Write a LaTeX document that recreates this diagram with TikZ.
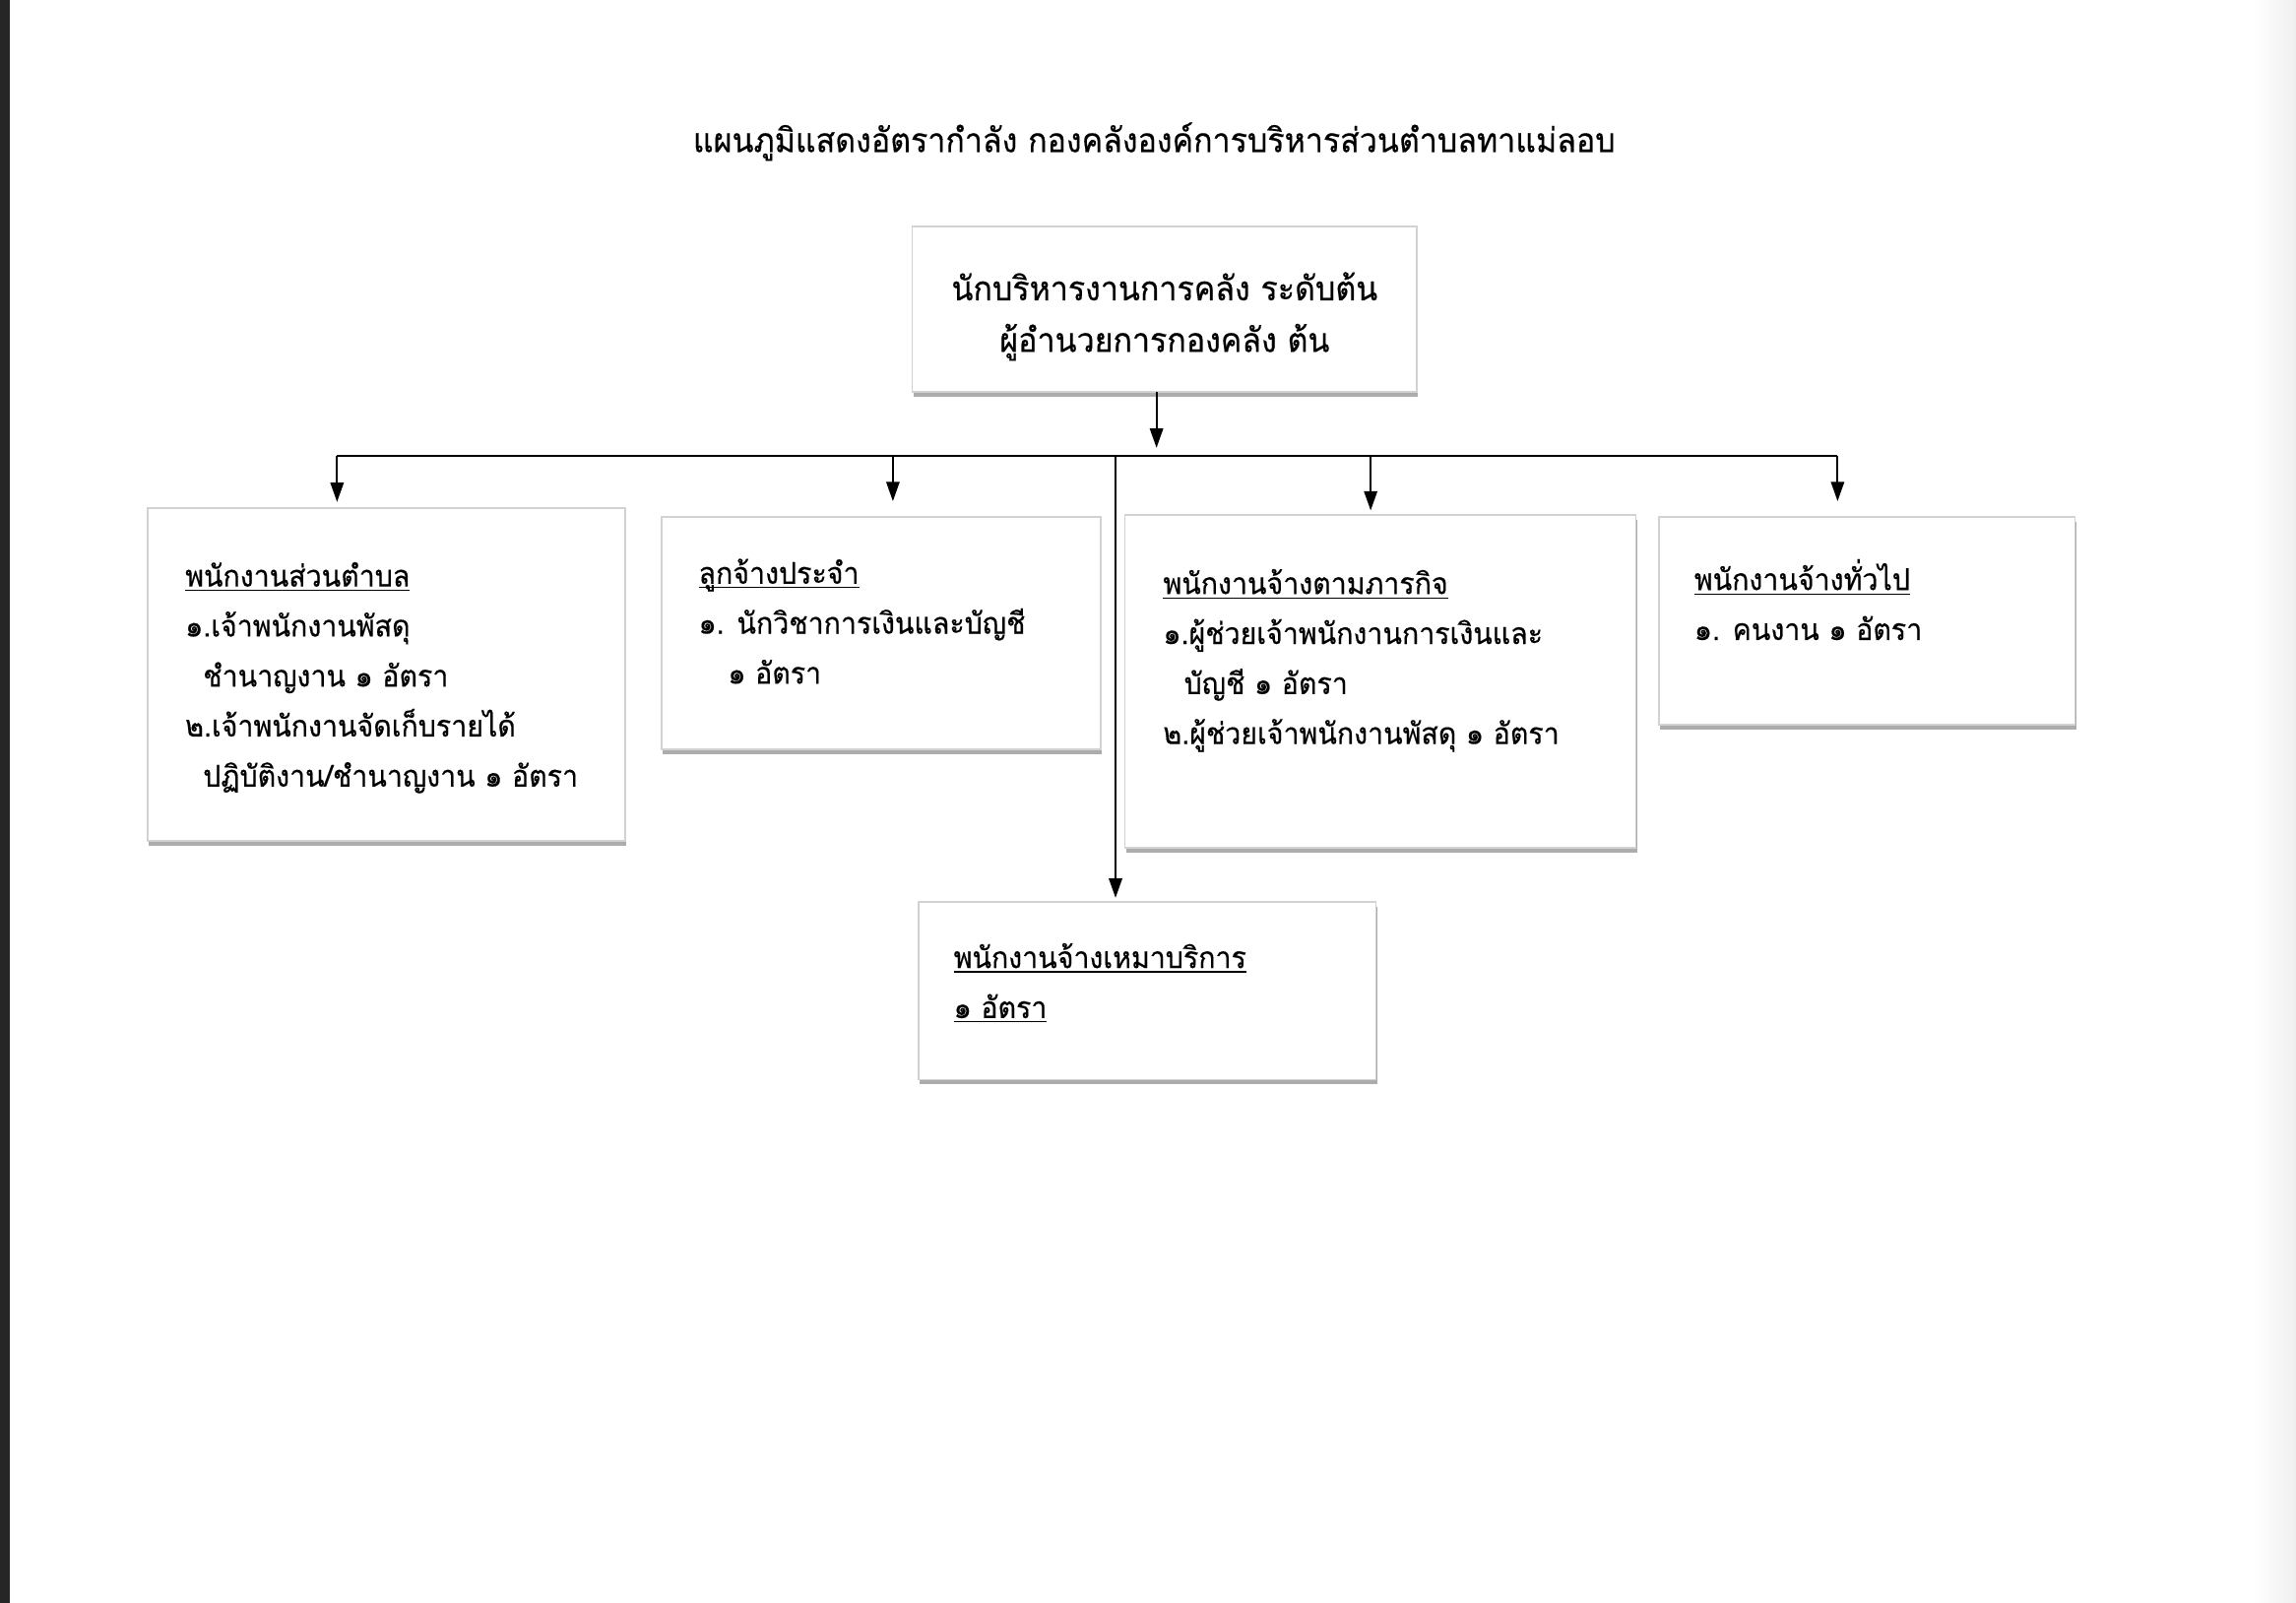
\documentclass[tikz,border=0pt]{standalone}
\usepackage{fontspec}
\newfontfamily\thaifont[Script=Thai, FakeStretch=0.94, FakeBold=0.4]{Loma}
\usetikzlibrary{calc,shadows,arrows.meta}
\def\ulthai#1{\underline{\smash{#1}}}

\tikzset{
	chart/.style={draw=gray!35, line width=0.6pt, fill=white, inner sep=0pt, outer sep=0pt,
		drop shadow={shadow xshift=0.4pt, shadow yshift=-1.8pt, opacity=1, fill=gray!65}},
	chartext/.style={anchor=base west, inner sep=0pt, align=left,
		font=\thaifont\fontsize{11}{18.4}\selectfont},
	bus/.style={line width=0.7pt},
	down/.style={bus, -{Triangle[length=2.5mm, width=1.7mm]}}
}

\begin{document}
\begin{tikzpicture}
			%%%%% START %%%%%
			
			\useasboundingbox (0, 0) rectangle (29.7, 20.733);
			\fill[black!85] (0, 0) rectangle (0.13, 20.733);
			\shade[left color=white, right color=blue!4!gray!12] (29.15, 0) rectangle (29.7, 20.733);
			
			\node[font=\thaifont\fontsize{12.4}{14}\selectfont] (title) at (14.93, 18.90)
				{แผนภูมิแสดงอัตรากำลัง กองคลังองค์การบริหารส่วนตำบลทาแม่ลอบ};
			
			\node[chart, minimum width=6.53cm, minimum height=2.14cm] (head) at (15.065, 16.73) {};
			\node[align=center, inner sep=0pt, font=\thaifont\fontsize{12.4}{19}\selectfont]
				(headText) at (15.065, 16.64) {นักบริหารงานการคลัง ระดับต้น\\ผู้อำนวยการกองคลัง ต้น};
			
			\node[chart, minimum width=6.18cm, minimum height=4.30cm] (staff) at (5.00, 12.01) {};
			\node[chart, minimum width=5.68cm, minimum height=3.01cm] (regular) at (11.40, 12.545) {};
			\node[chart, minimum width=6.61cm, minimum height=4.30cm] (mission) at (17.855, 11.92) {};
			\node[chart, minimum width=5.38cm, minimum height=2.69cm] (general) at (24.15, 12.705) {};
			\node[chart, minimum width=5.92cm, minimum height=2.30cm] (contract) at (14.84, 7.92) {};
			
			% text nodes sit on the baseline of their last line
			\node[chartext] (staffText) at (2.39, 10.56) {\ulthai{พนักงานส่วนตำบล}\\
				๑.เจ้าพนักงานพัสดุ\\
				\hspace{0.23cm}ชำนาญงาน ๑ อัตรา\\
				๒.เจ้าพนักงานจัดเก็บรายได้\\
				\hspace{0.23cm}ปฏิบัติงาน/ชำนาญงาน ๑ อัตรา};
			\node[chartext] (regularText) at (9.03, 11.89) {\ulthai{ลูกจ้างประจำ}\\
				๑. นักวิชาการเงินและบัญชี\\
				\hspace{0.38cm}๑ อัตรา};
			\node[chartext] (missionText) at (15.04, 11.11) {\ulthai{พนักงานจ้างตามภารกิจ}\\
				๑.ผู้ช่วยเจ้าพนักงานการเงินและ\\
				\hspace{0.27cm}บัญชี ๑ อัตรา\\
				๒.ผู้ช่วยเจ้าพนักงานพัสดุ ๑ อัตรา};
			\node[chartext] (generalText) at (21.91, 12.455) {\ulthai{พนักงานจ้างทั่วไป}\\
				๑. คนงาน ๑ อัตรา};
			\node[chartext] (contractText) at (12.33, 7.565) {\ulthai{พนักงานจ้างเหมาบริการ}\\
				\ulthai{๑ อัตรา}};
			
			\coordinate (busL) at (4.36, 14.84);
			\coordinate (busR) at (23.77, 14.84);
			\coordinate (drop) at (14.96, 14.84);
			\coordinate (tapRegular) at (11.55, 14.84);
			\coordinate (tapContract) at (14.43, 14.84);
			\coordinate (tapMission) at (17.73, 14.84);
			
			\draw[down, shorten >=0.1cm] (head.south -| drop) -- (drop);
			\draw[bus] (busL) -- (busR);
			
			\draw[down, shorten >=0.08cm] (busL) -- (busL |- staff.north);
			\draw[down, shorten >=0.2cm] (tapRegular) -- (tapRegular |- regular.north);
			\draw[down, shorten >=0.06cm] (tapMission) -- (tapMission |- mission.north);
			\draw[down, shorten >=0.2cm] (busR) -- (busR |- general.north);
			\draw[down, shorten >=0.05cm] (tapContract) -- (tapContract |- contract.north);
			
			%%%%% END %%%%%
		\end{tikzpicture}
\end{document}
